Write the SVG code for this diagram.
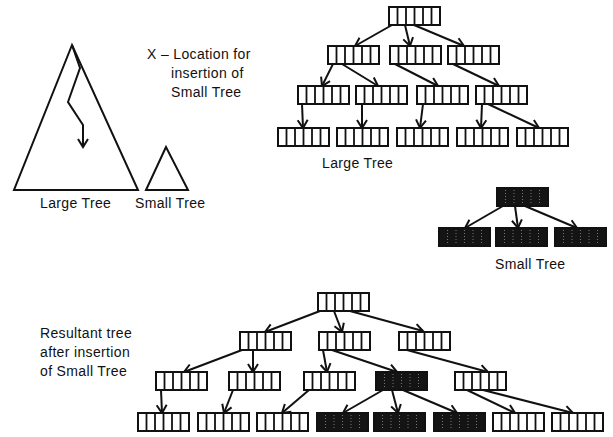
<svg xmlns="http://www.w3.org/2000/svg" xmlns:xlink="http://www.w3.org/1999/xlink" width="613" height="437" viewBox="0 0 613 437">
<style>
text{font-family:"Liberation Sans",Arial,sans-serif;font-size:14px;letter-spacing:0.35px;fill:#111}
.ln{stroke:#111;stroke-width:2;fill:none;marker-end:url(#ah)}
.tri{stroke:#111;stroke-width:2;fill:none;stroke-linejoin:miter}
</style>
<defs>
<marker id="ah" markerUnits="userSpaceOnUse" markerWidth="14" markerHeight="14" viewBox="0 0 14 14" refX="11" refY="7" orient="auto">
<path d="M3,2 L11,7 L3,12" fill="none" stroke="#111" stroke-width="2"/>
</marker>
<g id="box">
<rect x="0" y="0" width="51" height="18" fill="#fff" stroke="#111" stroke-width="2"/>
<path d="M8.5,0V18M17,0V18M25.5,0V18M34,0V18M42.5,0V18" stroke="#111" stroke-width="1.8"/>
</g>
<g id="dbox">
<rect x="0" y="0" width="51" height="18" fill="#141414" stroke="#111" stroke-width="2"/>
<path d="M8.5,2V16M17,2V16M25.5,2V16M34,2V16M42.5,2V16" stroke="#777" stroke-width="1" stroke-dasharray="1,2"/>
</g>
</defs>

<g id="large-triangle">
<path class="tri" d="M72,45 L14,190 L138,190 Z"/>
<path d="M72,45 L80,68 L68,102 L83,125 L83,147" stroke="#111" stroke-width="2" fill="none" marker-end="url(#ah)"/>
</g>
<g id="small-triangle">
<path class="tri" d="M166,147 L146,190 L188,190 Z"/>
</g>
<text x="40" y="208">Large Tree</text>
<text x="135" y="208">Small Tree</text>
<text x="147" y="59">X – Location for</text>
<text x="171" y="78">insertion of</text>
<text x="171" y="97">Small Tree</text>
<text x="322" y="168">Large Tree</text>
<text x="495" y="269">Small Tree</text>
<text x="40" y="338">Resultant tree</text>
<text x="40" y="357">after insertion</text>
<text x="40" y="376">of Small Tree</text>

<g id="connectors">
<line class="ln" x1="392" y1="25" x2="355" y2="46"/>
<line class="ln" x1="405" y1="25" x2="410" y2="46"/>
<line class="ln" x1="414" y1="25" x2="464" y2="46"/>
<line class="ln" x1="333" y1="64" x2="322" y2="86"/>
<line class="ln" x1="342" y1="64" x2="378" y2="86"/>
<line class="ln" x1="395" y1="64" x2="438" y2="86"/>
<line class="ln" x1="453" y1="64" x2="499" y2="86"/>
<line class="ln" x1="302" y1="104" x2="303" y2="128"/>
<line class="ln" x1="362" y1="104" x2="362" y2="128"/>
<line class="ln" x1="423" y1="104" x2="420" y2="128"/>
<line class="ln" x1="482" y1="104" x2="481" y2="128"/>
<line class="ln" x1="488" y1="104" x2="539" y2="128"/>

<line class="ln" x1="503" y1="206" x2="465" y2="228"/>
<line class="ln" x1="515" y1="206" x2="518" y2="228"/>
<line class="ln" x1="525" y1="206" x2="577" y2="228"/>

<line class="ln" x1="320" y1="311" x2="265" y2="332"/>
<line class="ln" x1="334" y1="311" x2="342" y2="332"/>
<line class="ln" x1="350" y1="311" x2="423" y2="331"/>
<line class="ln" x1="242" y1="350" x2="184" y2="372"/>
<line class="ln" x1="253" y1="350" x2="253" y2="372"/>
<line class="ln" x1="323" y1="350" x2="327" y2="372"/>
<line class="ln" x1="332" y1="350" x2="397" y2="372"/>
<line class="ln" x1="407" y1="350" x2="488" y2="372"/>
<line class="ln" x1="161" y1="390" x2="162" y2="413"/>
<line class="ln" x1="233" y1="390" x2="224" y2="413"/>
<line class="ln" x1="309" y1="390" x2="282" y2="413"/>
<line class="ln" x1="383" y1="390" x2="343" y2="413"/>
<line class="ln" x1="392" y1="390" x2="398" y2="413"/>
<line class="ln" x1="403" y1="390" x2="457" y2="413"/>
<line class="ln" x1="467" y1="390" x2="515" y2="413"/>
<line class="ln" x1="483" y1="390" x2="573" y2="413"/>
</g>

<g id="L-root"><use xlink:href="#box" x="389" y="7"/></g>
<g id="L-1a"><use xlink:href="#box" x="328" y="46"/></g>
<g id="L-1b"><use xlink:href="#box" x="390" y="46"/></g>
<g id="L-1c"><use xlink:href="#box" x="448" y="46"/></g>
<g id="L-2a"><use xlink:href="#box" x="298" y="86"/></g>
<g id="L-2b"><use xlink:href="#box" x="356" y="86"/></g>
<g id="L-2c"><use xlink:href="#box" x="417" y="86"/></g>
<g id="L-2d"><use xlink:href="#box" x="476" y="86"/></g>
<g id="L-3a"><use xlink:href="#box" x="278" y="128"/></g>
<g id="L-3b"><use xlink:href="#box" x="337" y="128"/></g>
<g id="L-3c"><use xlink:href="#box" x="397" y="128"/></g>
<g id="L-3d"><use xlink:href="#box" x="457" y="128"/></g>
<g id="L-3e"><use xlink:href="#box" x="517" y="128"/></g>

<g id="S-root"><use xlink:href="#dbox" x="497" y="188"/></g>
<g id="S-1a"><use xlink:href="#dbox" x="439" y="228"/></g>
<g id="S-1b"><use xlink:href="#dbox" x="496" y="228"/></g>
<g id="S-1c"><use xlink:href="#dbox" x="555" y="228"/></g>

<g id="R-root"><use xlink:href="#box" x="318" y="293"/></g>
<g id="R-1a"><use xlink:href="#box" x="240" y="332"/></g>
<g id="R-1b"><use xlink:href="#box" x="319" y="332"/></g>
<g id="R-1c"><use xlink:href="#box" x="399" y="332"/></g>
<g id="R-2a"><use xlink:href="#box" x="156" y="372"/></g>
<g id="R-2b"><use xlink:href="#box" x="229" y="372"/></g>
<g id="R-2c"><use xlink:href="#box" x="304" y="372"/></g>
<g id="R-2d"><use xlink:href="#dbox" x="376" y="372"/></g>
<g id="R-2e"><use xlink:href="#box" x="455" y="372"/></g>
<g id="R-3a"><use xlink:href="#box" x="138" y="413"/></g>
<g id="R-3b"><use xlink:href="#box" x="198" y="413"/></g>
<g id="R-3c"><use xlink:href="#box" x="257" y="413"/></g>
<g id="R-3d"><use xlink:href="#dbox" x="317" y="413"/></g>
<g id="R-3e"><use xlink:href="#dbox" x="374" y="413"/></g>
<g id="R-3f"><use xlink:href="#dbox" x="434" y="413"/></g>
<g id="R-3g"><use xlink:href="#box" x="493" y="413"/></g>
<g id="R-3h"><use xlink:href="#box" x="552" y="413"/></g>
</svg>
